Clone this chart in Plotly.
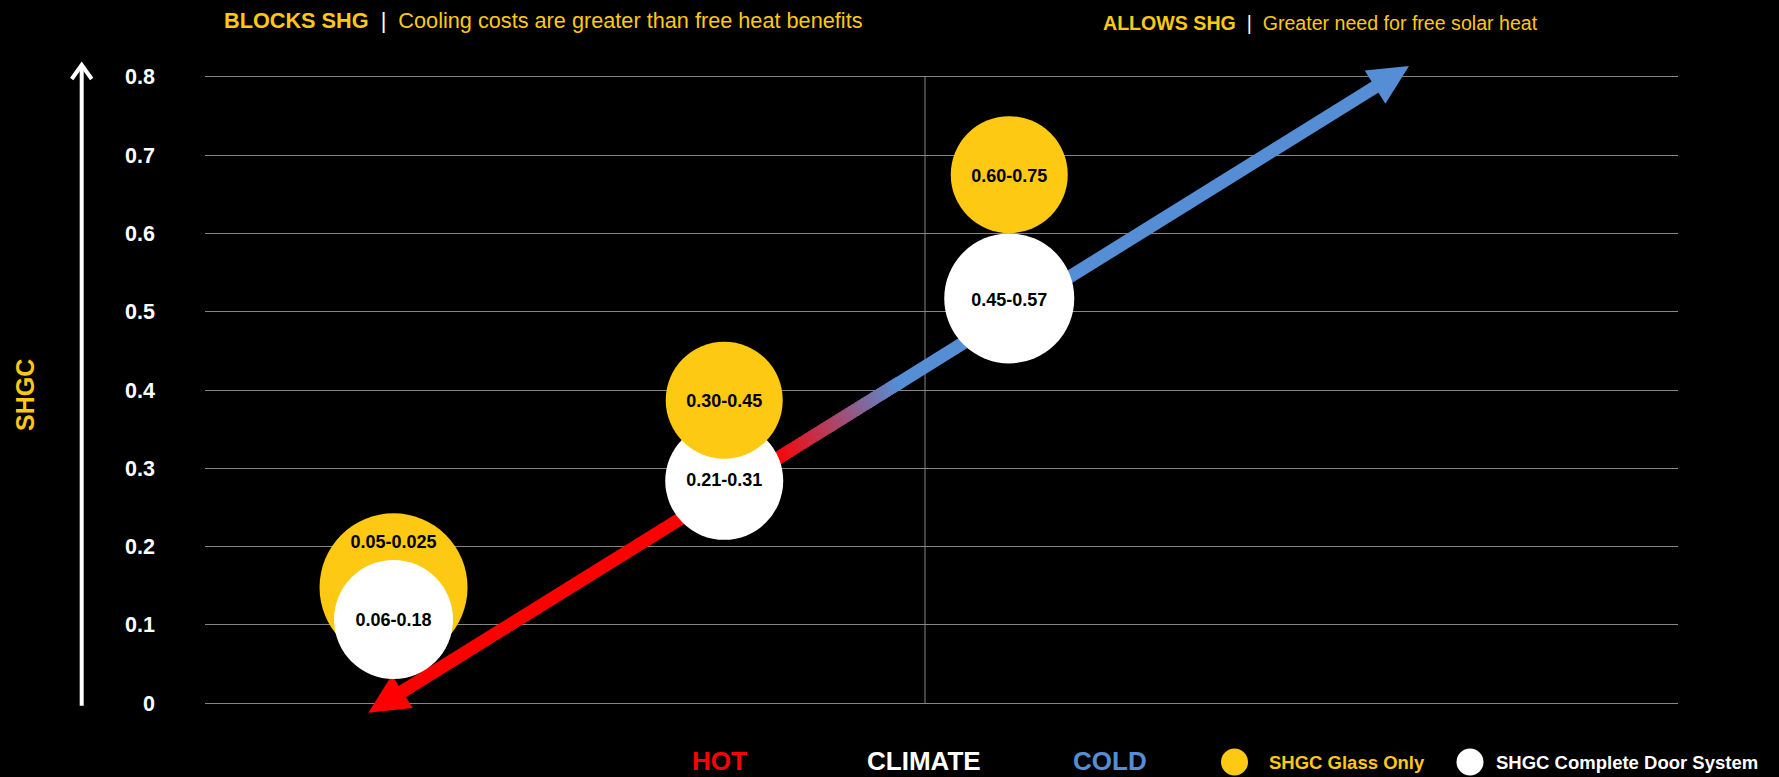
import plotly.graph_objects as go
import numpy as np

# ---------------- data ----------------
climate_x = [12.8, 35.25, 54.6]            # position along the HOT -> COLD climate axis
glass_shgc = [0.148, 0.387, 0.675]          # SHGC Glass Only (bubble centre)
system_shgc = [0.107, 0.284, 0.517]         # SHGC Complete Door System (bubble centre)
glass_labels = ["0.05-0.025", "0.30-0.45", "0.60-0.75"]
system_labels = ["0.06-0.18", "0.21-0.31", "0.45-0.57"]
glass_bubble = [148, 117, 117]              # bubble diameters
system_bubble = [119, 118, 130]
y_tickvals = [0, 0.1, 0.2, 0.3, 0.4, 0.5, 0.6, 0.7, 0.8]
y_ticktext = ["0", "0.1", "0.2", "0.3", "0.4", "0.5", "0.6", "0.7", "0.8"]
arrow_x = [11.09, 81.74]                    # climate arrow: hot tip -> cold tip
arrow_y = [-0.012, 0.8138]
divider_x = 48.88

# ---------------- style ----------------
W, H = 1779, 777
ML, MR, MT, MB = 205, 101, 50, 50
XR = [0, 100]
YR = [-0.0303, 0.8342]
YELLOW = "#FDC912"
BLUE = "#558ED5"
RED = "#FF0000"
GRID = "#858585"
NARROW = "Liberation Sans Narrow, Arial Narrow, Liberation Sans, Arial, sans-serif"
ARIAL = "Liberation Sans, Arial, sans-serif"
glass_label_shift_px = [44, -2, -3]
system_label_shift_px = [-2, -1, -3]
glass_on_top = [False, True, True]
SHAFT_W = 13
HEAD_LEN = 40
HEAD_HALF = 19.5
GRAD_T = [0.39, 0.51]

PW, PH = W - ML - MR, H - MT - MB


def px_x(v):
    return ML + (v - XR[0]) / (XR[1] - XR[0]) * PW


def px_y(v):
    return MT + (YR[1] - v) / (YR[1] - YR[0]) * PH


def dx_(p):
    return XR[0] + (p - ML) / PW * (XR[1] - XR[0])


def dy_(p):
    return YR[1] - (p - MT) / PH * (YR[1] - YR[0])


def paper_x(p):
    return (p - ML) / PW


def paper_y(p):
    return (H - MB - p) / PH


fig = go.Figure()

# ---------------- climate arrow ----------------
p0 = np.array([px_x(arrow_x[0]), px_y(arrow_y[0])])
p1 = np.array([px_x(arrow_x[1]), px_y(arrow_y[1])])
L = np.linalg.norm(p1 - p0)
u = (p1 - p0) / L
n = np.array([-u[1], u[0]])


def pt(t):
    return p0 + (p1 - p0) * t


def add_seg(ta, tb, color):
    a, b = pt(ta), pt(tb)
    fig.add_trace(go.Scatter(x=[dx_(a[0]), dx_(b[0])], y=[dy_(a[1]), dy_(b[1])],
                             mode="lines", line=dict(color=color, width=SHAFT_W),
                             hoverinfo="skip", showlegend=False))


t_start = (HEAD_LEN - 3) / L
t_end = 1 - (HEAD_LEN - 3) / L
add_seg(t_start, GRAD_T[0] + 0.002, RED)
rgb_r = np.array([255, 0, 0])
rgb_b = np.array([85, 142, 213])
N = 40
for i in range(N):
    ta = GRAD_T[0] + (GRAD_T[1] - GRAD_T[0]) * i / N
    tb = GRAD_T[0] + (GRAD_T[1] - GRAD_T[0]) * (i + 1) / N
    f = (i + 0.5) / N
    c = (1 - f) * rgb_r + f * rgb_b
    add_seg(ta - 0.001, tb + 0.001, "rgb(%d,%d,%d)" % tuple(c.round().astype(int)))
add_seg(GRAD_T[1] - 0.002, t_end, BLUE)


def add_head(tip, direction, color):
    base = tip - direction * HEAD_LEN
    c1 = base + n * HEAD_HALF
    c2 = base - n * HEAD_HALF
    pts = [tip, c1, c2, tip]
    fig.add_trace(go.Scatter(x=[dx_(p[0]) for p in pts], y=[dy_(p[1]) for p in pts],
                             mode="lines", fill="toself", fillcolor=color,
                             line=dict(width=0, color=color),
                             hoverinfo="skip", showlegend=False))


add_head(p1, u, BLUE)
add_head(p0, -u, RED)

# ---------------- bubbles ----------------
def bubble_trace(idx, values, sizes, color, name):
    return go.Scatter(x=[climate_x[i] for i in idx], y=[values[i] for i in idx],
                      mode="markers", name=name, showlegend=False,
                      marker=dict(size=[sizes[i] for i in idx], sizemode="diameter",
                                  color=color, line=dict(width=0), opacity=1))


back = [i for i in range(3) if not glass_on_top[i]]
front = [i for i in range(3) if glass_on_top[i]]
fig.add_trace(bubble_trace(back, glass_shgc, glass_bubble, YELLOW, "SHGC Glass Only"))
fig.add_trace(bubble_trace(range(3), system_shgc, system_bubble, "#FFFFFF", "SHGC Complete Door System"))
fig.add_trace(bubble_trace(front, glass_shgc, glass_bubble, YELLOW, "SHGC Glass Only"))

unit_per_px = (YR[1] - YR[0]) / PH
fig.add_trace(go.Scatter(
    x=climate_x + climate_x,
    y=[v + s * unit_per_px for v, s in zip(glass_shgc, glass_label_shift_px)]
      + [v + s * unit_per_px for v, s in zip(system_shgc, system_label_shift_px)],
    text=glass_labels + system_labels, mode="text", textposition="middle center",
    textfont=dict(family=ARIAL, size=18, color="#000000", weight="bold"),
    hoverinfo="skip", showlegend=False))

# ---------------- shapes ----------------
shapes = [
    dict(type="line", xref="x", yref="y", x0=divider_x, x1=divider_x, y0=0, y1=0.8,
         line=dict(color=GRID, width=1), layer="below"),
    # SHGC axis arrow
    dict(type="line", xref="paper", yref="paper", x0=paper_x(81.7), x1=paper_x(81.7),
         y0=paper_y(705.7), y1=paper_y(66), line=dict(color="#FFFFFF", width=4)),
    dict(type="path", xref="paper", yref="paper", xsizemode="pixel", ysizemode="pixel",
         xanchor=paper_x(81.7), yanchor=paper_y(65), path="M -10,-14 L 0,0 L 10,-14",
         line=dict(color="#FFFFFF", width=4)),
    # legend dots
    dict(type="circle", xref="paper", yref="paper", xsizemode="pixel", ysizemode="pixel",
         xanchor=paper_x(1234.5), yanchor=paper_y(762), x0=-13.5, x1=13.5, y0=-13.5, y1=13.5,
         fillcolor=YELLOW, line=dict(width=0)),
    dict(type="circle", xref="paper", yref="paper", xsizemode="pixel", ysizemode="pixel",
         xanchor=paper_x(1470), yanchor=paper_y(762), x0=-13.5, x1=13.5, y0=-13.5, y1=13.5,
         fillcolor="#FFFFFF", line=dict(width=0)),
]

# ---------------- annotations ----------------
def ann(text, x, y, size, color, family=NARROW, xanchor="left", angle=0):
    return dict(text=text, x=paper_x(x), y=paper_y(y), xref="paper", yref="paper",
                xanchor=xanchor, yanchor="middle", showarrow=False, textangle=angle,
                font=dict(family=family, size=size, color=color))


sep = "&nbsp;&nbsp;<span style='color:#FFFFFF'>|</span>&nbsp;&nbsp;"
annotations = [
    ann("<b>BLOCKS SHG</b>" + sep + "Cooling costs are greater than free heat benefits",
        221.7, 21, 21.7, YELLOW),
    ann("<b>ALLOWS SHG</b>" + sep + "Greater need for free solar heat",
        1100.6, 23, 19.6, YELLOW),
    ann("<b>SHGC</b>", 25, 395, 25, YELLOW, xanchor="center", angle=-90),
    ann("<b>HOT</b>", 719, 761, 26, RED, xanchor="center"),
    ann("<b>CLIMATE</b>", 923.8, 761, 26, "#FFFFFF", xanchor="center"),
    ann("<b>COLD</b>", 1110, 761, 26, BLUE, xanchor="center"),
    ann("<b>SHGC Glass Only</b>", 1267, 762, 18.5, YELLOW, family=ARIAL),
    ann("<b>SHGC Complete Door System</b>", 1494, 762, 18.5, "#FFFFFF", family=ARIAL),
]

fig.update_layout(
    width=W, height=H, autosize=False,
    margin=dict(l=ML, r=MR, t=MT, b=MB, pad=0),
    paper_bgcolor="#000000", plot_bgcolor="#000000",
    showlegend=False,
    xaxis=dict(range=XR, visible=False, fixedrange=True),
    yaxis=dict(range=YR, tickvals=y_tickvals, ticktext=y_ticktext, showgrid=True,
               gridcolor=GRID, gridwidth=1, zeroline=False, showline=False, ticks="",
               ticklabelstandoff=49, fixedrange=True,
               tickfont=dict(family=ARIAL, size=21.5, color="#FFFFFF", weight="bold")),
    shapes=shapes, annotations=annotations,
)

fig.write_html("out.html", config={"displayModeBar": False})
